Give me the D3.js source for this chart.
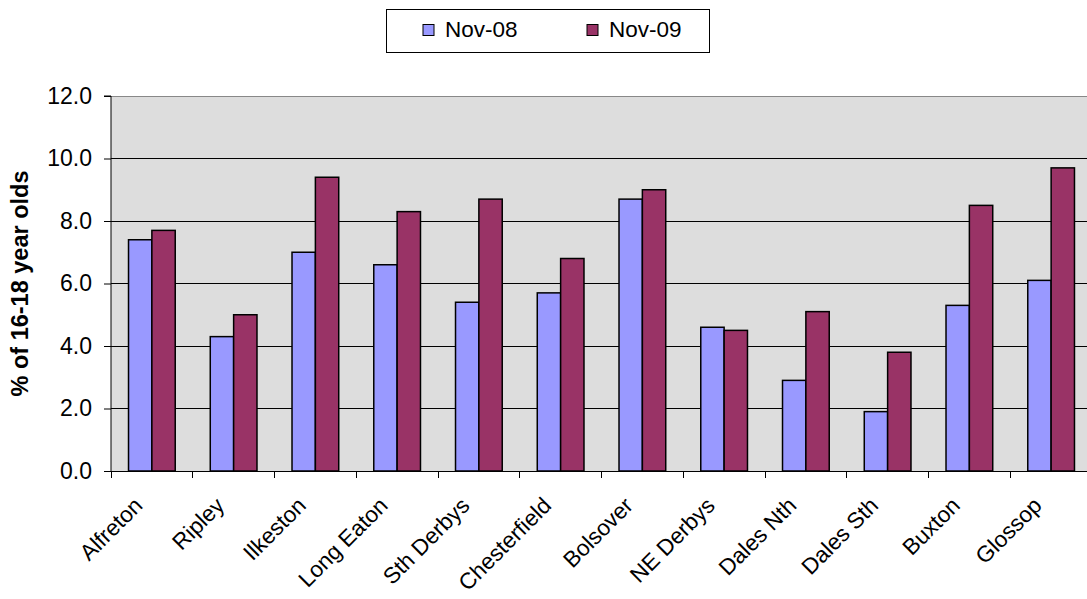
<!DOCTYPE html>
<html>
<head>
<meta charset="utf-8">
<script src="https://cdn.jsdelivr.net/npm/d3@7"></script>
<style>
  html, body { margin: 0; padding: 0; background: #fff; }
  svg { display: block; font-family: "Liberation Sans", Arial, sans-serif; }
</style>
</head>
<body>
<svg id="chart" width="1087" height="599"></svg>
<script>
// Districts and percentage of 16-18 year olds, by month
const districts = ["Alfreton", "Ripley", "Ilkeston", "Long Eaton", "Sth Derbys", "Chesterfield",
                   "Bolsover", "NE Derbys", "Dales Nth", "Dales Sth", "Buxton", "Glossop"];
const seriesNames = ["Nov-08", "Nov-09"];
const nov08 = [7.4, 4.3, 7.0, 6.6, 5.4, 5.7, 8.7, 4.6, 2.9, 1.9, 5.3, 6.1];
const nov09 = [7.7, 5.0, 9.4, 8.3, 8.7, 6.8, 9.0, 4.5, 5.1, 3.8, 8.5, 9.7];
const yTicks = [0, 2, 4, 6, 8, 10, 12];
const colors = ["#9999ff", "#993366"];

const svg = d3.select("#chart");
const plot = { left: 111, top: 96, width: 981, height: 375 };

const x = d3.scaleBand().domain(districts).range([plot.left, plot.left + plot.width]);
const gapFrac = 1.5;                        // gap between groups, as a fraction of bar width
const barW = x.bandwidth() / (2 + gapFrac);
const xInner = d3.scaleBand().domain(seriesNames)
  .range([barW * gapFrac / 2, barW * gapFrac / 2 + 2 * barW]);
const y = d3.scaleLinear().domain([0, 12]).range([plot.top + plot.height, plot.top]);

// plot background
svg.append("rect")
  .attr("x", plot.left).attr("y", plot.top)
  .attr("width", plot.width).attr("height", plot.height)
  .attr("fill", "#dddddd");

// horizontal gridlines
svg.append("g").selectAll("line")
  .data(yTicks.filter(t => t > 0 && t < 12))
  .join("line")
  .attr("x1", plot.left).attr("x2", plot.left + plot.width)
  .attr("y1", d => y(d)).attr("y2", d => y(d))
  .attr("stroke", "#000").attr("stroke-width", 1)
  .attr("shape-rendering", "crispEdges");

// top border of the plot
svg.append("line")
  .attr("x1", plot.left).attr("x2", plot.left + plot.width)
  .attr("y1", y(12)).attr("y2", y(12))
  .attr("stroke", "#888").attr("stroke-width", 1)
  .attr("shape-rendering", "crispEdges");

// bars
const rows = districts.map((d, i) => ({ district: d, values: [nov08[i], nov09[i]] }));
const groups = svg.append("g").selectAll("g")
  .data(rows).join("g")
  .attr("transform", d => `translate(${x(d.district)},0)`);
groups.selectAll("rect")
  .data(d => d.values.map((v, k) => ({ key: seriesNames[k], value: v, k })))
  .join("rect")
  .attr("x", d => xInner(d.key))
  .attr("y", d => y(d.value))
  .attr("width", xInner.bandwidth())
  .attr("height", d => y(0) - y(d.value))
  .attr("fill", d => colors[d.k])
  .attr("stroke", "#000")
  .attr("stroke-width", 1.5);

// y axis
const yAxis = d3.axisLeft(y).tickValues(yTicks).tickFormat(d3.format(".1f")).tickSize(7).tickPadding(12);
const gy = svg.append("g")
  .attr("transform", `translate(${plot.left},0)`)
  .call(yAxis);
gy.select(".domain").attr("stroke", "#000").attr("d", `M-7,${y(12)}H0V${y(0)}`);
gy.selectAll(".tick line").attr("stroke", "#000");
gy.selectAll(".tick text").attr("font-size", 23).attr("fill", "#000")
  .attr("font-family", "'Liberation Sans', Arial, sans-serif");

// x axis: baseline plus ticks at group boundaries
const gx = svg.append("g");
gx.append("line")
  .attr("x1", plot.left).attr("x2", plot.left + plot.width)
  .attr("y1", y(0)).attr("y2", y(0))
  .attr("stroke", "#000").attr("shape-rendering", "crispEdges");
gx.selectAll("line.tick")
  .data(districts)
  .join("line")
  .attr("class", "tick")
  .attr("x1", d => x(d)).attr("x2", d => x(d))
  .attr("y1", y(0)).attr("y2", y(0) + 7)
  .attr("stroke", "#000").attr("shape-rendering", "crispEdges");

// rotated category labels
gx.selectAll("text")
  .data(districts)
  .join("text")
  .attr("transform", d => `translate(${x(d) + x.bandwidth() / 2 - 8},${y(0) + 36}) rotate(-45)`)
  .attr("text-anchor", "end")
  .attr("font-size", 22.5)
  .attr("fill", "#000")
  .text(d => d);

// y axis title
svg.append("text")
  .attr("transform", `translate(28,${(y(0) + y(12)) / 2}) rotate(-90)`)
  .attr("text-anchor", "middle")
  .attr("font-size", 23.5)
  .attr("font-weight", "bold")
  .attr("fill", "#000")
  .text("% of 16-18 year olds");

// legend
const legend = svg.append("g");
legend.append("rect")
  .attr("x", 386.5).attr("y", 9.5).attr("width", 323).attr("height", 43)
  .attr("fill", "#fff").attr("stroke", "#000").attr("stroke-width", 1);
const legendX = [423, 587];
seriesNames.forEach((name, k) => {
  legend.append("rect")
    .attr("x", legendX[k]).attr("y", 24.5).attr("width", 11).attr("height", 11)
    .attr("fill", colors[k]).attr("stroke", "#000").attr("stroke-width", 1);
  legend.append("text")
    .attr("x", legendX[k] + 22).attr("y", 37)
    .attr("font-size", 22.5).attr("fill", "#000")
    .text(name);
});
</script>
</body>
</html>
